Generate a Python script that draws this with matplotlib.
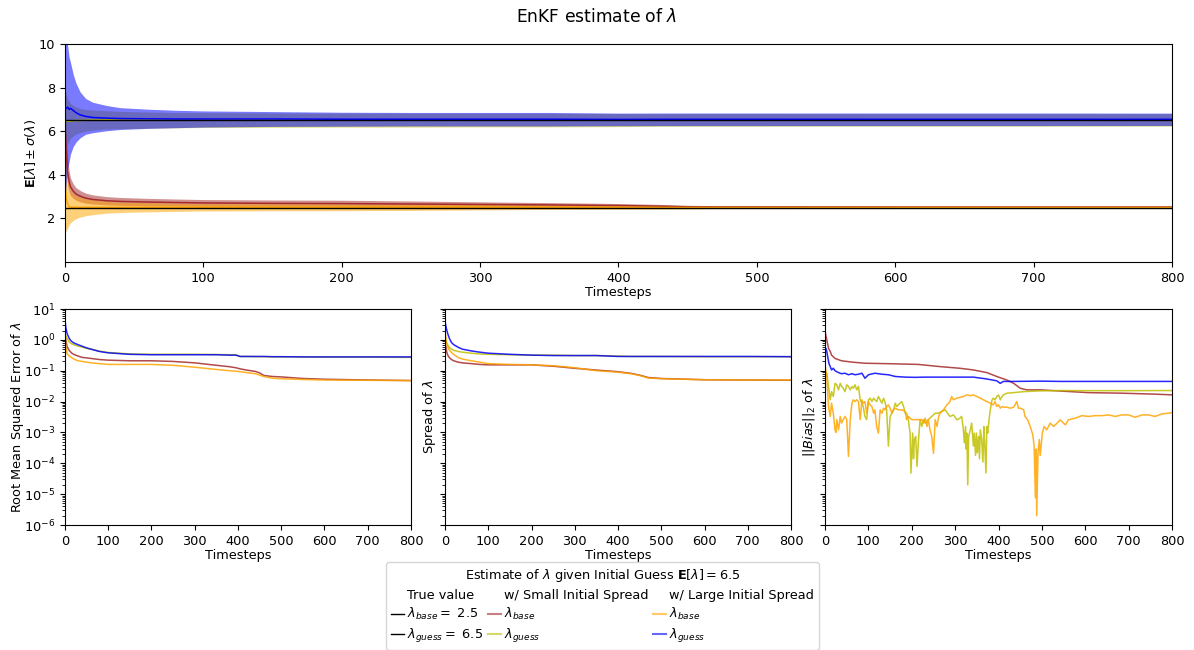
import numpy as np
import matplotlib
matplotlib.use("Agg")
import matplotlib.pyplot as plt
from matplotlib.lines import Line2D

plt.rcParams["font.size"] = 9.3

# true parameter values
true_base = 2.5
true_guess = 6.5

# ---- top panel: ensemble mean and spread ----
t_top = [0, 1, 2, 3, 4, 6, 8, 11, 15, 20, 30, 40, 60, 80, 100, 150, 200, 250,
         300, 350, 400, 430, 450, 470, 500, 600, 700, 800]

mean_base_small = [6.5, 4.8, 4.1, 3.7, 3.45, 3.25, 3.12, 3.02, 2.93, 2.87, 2.81, 2.78, 2.75, 2.73,
                   2.71, 2.69, 2.68, 2.66, 2.64, 2.62, 2.59, 2.56, 2.53, 2.525, 2.525, 2.52, 2.52, 2.52]
std_base_small = [1.0, 0.75, 0.6, 0.48, 0.4, 0.33, 0.29, 0.26, 0.23, 0.21, 0.19, 0.18, 0.17, 0.16,
                  0.155, 0.155, 0.155, 0.14, 0.12, 0.105, 0.093, 0.082, 0.072, 0.06, 0.056, 0.051, 0.05, 0.049]

mean_guess_small = [6.5, 6.47, 6.46, 6.46, 6.47, 6.48, 6.49, 6.49, 6.5, 6.51, 6.52, 6.51, 6.51, 6.505,
                    6.51, 6.51, 6.51, 6.51, 6.51, 6.51, 6.51, 6.515, 6.52, 6.52, 6.52, 6.52, 6.52, 6.52]
std_guess_small = [1.5, 1.2, 1.0, 0.9, 0.8, 0.7, 0.62, 0.55, 0.5, 0.46, 0.42, 0.4, 0.37, 0.35,
                   0.34, 0.33, 0.32, 0.32, 0.31, 0.31, 0.3, 0.29, 0.29, 0.29, 0.29, 0.285, 0.285, 0.285]

mean_base_large = [3.6, 2.9, 2.66, 2.55, 2.52, 2.51, 2.51, 2.51, 2.51, 2.51, 2.51, 2.51, 2.51, 2.51,
                   2.51, 2.51, 2.51, 2.51, 2.515, 2.51, 2.51, 2.505, 2.5, 2.5, 2.5, 2.5, 2.5, 2.5]
std_base_large = [2.1, 1.5, 1.1, 0.85, 0.72, 0.6, 0.52, 0.45, 0.39, 0.34, 0.27, 0.24, 0.21, 0.19,
                  0.17, 0.16, 0.155, 0.145, 0.125, 0.1, 0.09, 0.08, 0.07, 0.058, 0.055, 0.051, 0.05, 0.05]

mean_guess_large = [7.0, 7.05, 7.1, 7.0, 7.05, 6.95, 6.85, 6.75, 6.68, 6.63, 6.6, 6.58, 6.57, 6.56,
                    6.56, 6.56, 6.55, 6.55, 6.55, 6.55, 6.54, 6.545, 6.545, 6.545, 6.545, 6.545, 6.545, 6.545]
std_guess_large = [4.2, 3.3, 2.8, 2.4, 2.1, 1.65, 1.35, 1.05, 0.82, 0.7, 0.58, 0.5, 0.44, 0.4,
                   0.37, 0.34, 0.32, 0.31, 0.31, 0.31, 0.29, 0.29, 0.29, 0.29, 0.29, 0.29, 0.29, 0.285]

# ---- RMSE ----
t_err = [0, 2, 5, 10, 15, 20, 30, 40, 50, 60, 80, 100, 150, 200, 250, 300, 350, 380, 395, 405,
         420, 440, 450, 460, 480, 500, 550, 600, 700, 800]
rmse_base_small = [2.0, 1.0, 0.6, 0.45, 0.38, 0.34, 0.3, 0.27, 0.26, 0.25, 0.23, 0.22, 0.21, 0.21, 0.2,
                   0.18, 0.15, 0.135, 0.125, 0.115, 0.105, 0.095, 0.085, 0.07, 0.065, 0.063, 0.056, 0.053, 0.05, 0.048]
rmse_guess_small = [1.5, 1.3, 1.1, 0.85, 0.75, 0.7, 0.63, 0.58, 0.53, 0.5, 0.43, 0.39, 0.35, 0.34, 0.34,
                    0.34, 0.335, 0.33, 0.33, 0.29, 0.29, 0.285, 0.285, 0.285, 0.28, 0.28, 0.28, 0.275, 0.275, 0.27]
rmse_base_large = [1.5, 0.6, 0.35, 0.3, 0.27, 0.24, 0.21, 0.2, 0.19, 0.18, 0.17, 0.16, 0.16, 0.16, 0.15,
                   0.13, 0.11, 0.1, 0.097, 0.093, 0.087, 0.08, 0.072, 0.065, 0.057, 0.055, 0.052, 0.05, 0.049, 0.048]
rmse_guess_large = [4.4, 2.5, 1.6, 1.1, 0.9, 0.8, 0.7, 0.62, 0.55, 0.5, 0.42, 0.38, 0.34, 0.33, 0.33,
                    0.33, 0.33, 0.32, 0.32, 0.29, 0.29, 0.29, 0.29, 0.29, 0.285, 0.285, 0.28, 0.28, 0.28, 0.28]

# ---- bias ----
t_bias_base_small = [0, 4, 8, 12, 15, 23, 38, 62, 92, 154, 215, 265, 311, 342, 373, 396, 419, 435,
                     450, 465, 496, 542, 607, 684, 761, 800]
bias_base_small = [1.9, 1.0, 0.53, 0.42, 0.32, 0.25, 0.21, 0.19, 0.175, 0.168, 0.16, 0.136, 0.12, 0.106,
                   0.087, 0.065, 0.05, 0.039, 0.027, 0.024, 0.024, 0.022, 0.0195, 0.0187, 0.0174, 0.0165]

t_bias_guess_large = [0, 2, 4, 6, 9, 12, 15, 19, 23, 31, 38, 46, 54, 62, 69, 77, 85, 92, 100, 115, 131,
                      146, 162, 185, 208, 231, 277, 342, 373, 396, 404, 411, 435, 496, 542, 800]
bias_guess_large = [0.55, 0.53, 0.42, 0.29, 0.17, 0.136, 0.106, 0.12, 0.1, 0.087, 0.08, 0.083, 0.074,
                    0.08, 0.074, 0.077, 0.083, 0.057, 0.074, 0.083, 0.077, 0.074, 0.065, 0.062, 0.061,
                    0.062, 0.062, 0.062, 0.054, 0.047, 0.039, 0.045, 0.045, 0.046, 0.045, 0.045]

t_bias_guess_small = [0, 4, 8, 12, 15, 19, 23, 27, 31, 35, 38, 42, 46, 50, 54, 58, 62, 65, 69, 73, 77,
                      81, 85, 88, 92, 96, 100, 104, 108, 112, 115, 119, 123, 127, 131, 135, 138, 142,
                      146, 150, 154, 158, 162, 165, 169, 173, 177, 181, 185, 188, 192, 196, 198, 202,
                      204, 206, 209, 212, 215, 219, 223, 227, 231, 238, 246, 254, 262, 269, 277, 288,
                      296, 304, 311, 315, 319, 321, 324, 325, 327, 329, 331, 335, 338, 342, 344, 347,
                      349, 351, 354, 356, 358, 361, 364, 366, 368, 371, 373, 375, 378, 381, 385, 388,
                      392, 396, 400, 404, 408, 411, 419, 435, 458, 496, 542, 600, 700, 800]
bias_guess_small = [0.06, 0.083, 0.031, 0.0114, 0.021, 0.0146, 0.039, 0.035, 0.024, 0.039, 0.031,
                    0.027, 0.021, 0.035, 0.031, 0.024, 0.031, 0.027, 0.035, 0.024, 0.031, 0.0114,
                    0.0089, 0.0069, 0.0033, 0.0026, 0.0114, 0.0129, 0.010, 0.0129, 0.0114, 0.010,
                    0.0146, 0.0114, 0.0089, 0.0129, 0.010, 0.0054, 0.00036, 0.0033, 0.0042, 0.0054,
                    0.0089, 0.0069, 0.0078, 0.0089, 0.010, 0.0069, 0.0042, 0.0042, 0.0026, 0.00095,
                    0.000048, 0.00095, 0.00014, 0.00059, 0.00074, 0.000079, 0.00046, 0.0026, 0.00156,
                    0.0026, 0.002, 0.0026, 0.0033, 0.0042, 0.0042, 0.0048, 0.0054, 0.0033, 0.0037,
                    0.00256, 0.0029, 0.0033, 0.00121, 0.00046, 0.00156, 0.00029, 0.00095, 0.00002,
                    0.00074, 0.00121, 0.002, 0.00036, 0.00095, 0.00018, 0.00095, 0.00022, 0.00074,
                    0.00014, 0.00121, 0.00059, 0.00011, 0.00156, 0.00046, 0.000049, 0.00156, 0.00095,
                    0.00256, 0.0054, 0.0114, 0.0129, 0.0114, 0.0146, 0.0165, 0.0114, 0.0146, 0.0165,
                    0.0187, 0.0195, 0.021, 0.0222, 0.0228, 0.0226, 0.0226, 0.0228]

t_bias_base_large = [0, 4, 8, 12, 15, 19, 23, 25, 27, 31, 35, 38, 42, 46, 50, 54, 58, 62, 65, 69, 73,
                     77, 81, 85, 88, 92, 96, 100, 104, 108, 112, 115, 119, 123, 127, 131, 135, 138, 142,
                     146, 150, 154, 158, 162, 169, 177, 185, 188, 192, 200, 208, 215, 223, 227, 231, 235,
                     238, 242, 246, 250, 254, 258, 262, 265, 269, 273, 281, 288, 292, 296, 304, 311, 319,
                     327, 335, 342, 350, 358, 365, 373, 381, 388, 392, 396, 400, 404, 408, 411, 419, 427,
                     435, 438, 442, 446, 450, 458, 461, 467, 473, 479, 482, 485, 487, 488, 491, 494, 496,
                     498, 501, 505, 511, 519, 527, 535, 542, 554, 561, 577, 592, 607, 623, 638, 654, 669,
                     684, 700, 715, 731, 746, 761, 777, 792, 800]
bias_base_large = [0.15, 0.065, 0.0069, 0.0033, 0.0089, 0.0042, 0.00121, 0.001, 0.0026, 0.00121, 0.0033,
                   0.002, 0.0026, 0.0033, 0.0026, 0.000166, 0.0026, 0.0089, 0.0114, 0.010, 0.0114, 0.010,
                   0.0026, 0.0114, 0.0089, 0.010, 0.0042, 0.010, 0.0078, 0.0069, 0.0042, 0.0054, 0.00156,
                   0.00095, 0.0054, 0.0042, 0.0061, 0.0054, 0.0069, 0.0078, 0.0061, 0.0042, 0.0054,
                   0.0061, 0.0054, 0.0054, 0.0048, 0.0026, 0.0033, 0.0026, 0.0026, 0.0026, 0.0026, 0.002,
                   0.0029, 0.00156, 0.0026, 0.00121, 0.00074, 0.00021, 0.0026, 0.00156, 0.0033, 0.0042,
                   0.0048, 0.0054, 0.0078, 0.010, 0.0146, 0.0114, 0.0129, 0.0136, 0.0146, 0.0165, 0.0155,
                   0.0165, 0.0146, 0.0129, 0.0114, 0.010, 0.0089, 0.0078, 0.010, 0.0069, 0.0078, 0.0061,
                   0.0069, 0.0066, 0.0066, 0.0061, 0.0066, 0.0078, 0.010, 0.0061, 0.0061, 0.0054, 0.0033,
                   0.0026, 0.00156, 0.00084, 0.00036, 0.0000076, 0.00029, 0.000002, 0.00022, 0.00059,
                   0.00018, 0.00036, 0.00095, 0.00156, 0.00121, 0.002, 0.00156, 0.002, 0.00256, 0.00176,
                   0.00256, 0.0029, 0.0035, 0.0033, 0.0035, 0.0035, 0.0037, 0.0033, 0.0037, 0.0037,
                   0.0031, 0.0037, 0.0037, 0.0033, 0.004, 0.0042, 0.0044]

c_base_small = "brown"
c_guess_small = "y"
c_base_large = "orange"
c_guess_large = "blue"

fig = plt.figure(figsize=(11.94, 6.5), dpi=100)
fig.suptitle(r"EnKF estimate of $\lambda$", fontsize=12.3, y=0.988)

# top axes
ax = fig.add_axes([0.0544, 0.5969, 0.9272, 0.3354])
series = [
    (mean_base_small, std_base_small, c_base_small),
    (mean_guess_small, std_guess_small, c_guess_small),
    (mean_base_large, std_base_large, c_base_large),
    (mean_guess_large, std_guess_large, c_guess_large),
]
for m, s, c in series:
    m = np.array(m)
    s = np.array(s)
    ax.fill_between(t_top, m - s, m + s, color=c, alpha=0.52, lw=0)
for m, s, c in series:
    ax.plot(t_top, m, color=c, lw=1.1)
ax.axhline(true_base, color="black", lw=1)
ax.axhline(true_guess, color="black", lw=1)
ax.set_xlim(0, 800)
ax.set_ylim(0, 10)
ax.set_yticks([2, 4, 6, 8, 10])
ax.set_xlabel("Timesteps", labelpad=1)
ax.set_ylabel(r"$\mathbf{E}[\lambda] \pm \sigma(\lambda)$")
ax.yaxis.set_label_coords(-0.024, 0.5)

# bottom axes
ax1 = fig.add_axes([0.0544, 0.1923, 0.2898, 0.3323])
ax2 = fig.add_axes([0.3727, 0.1923, 0.2898, 0.3323], sharey=ax1)
ax3 = fig.add_axes([0.6910, 0.1923, 0.2906, 0.3323], sharey=ax1)

ax1.plot(t_err, rmse_base_small, color=c_base_small, lw=1.1, alpha=0.85)
ax1.plot(t_err, rmse_guess_small, color=c_guess_small, lw=1.1, alpha=0.85)
ax1.plot(t_err, rmse_base_large, color=c_base_large, lw=1.1, alpha=0.85)
ax1.plot(t_err, rmse_guess_large, color=c_guess_large, lw=1.1, alpha=0.85)

ax2.plot(t_top, std_base_small, color=c_base_small, lw=1.1, alpha=0.85)
ax2.plot(t_top, std_guess_small, color=c_guess_small, lw=1.1, alpha=0.85)
ax2.plot(t_top, std_base_large, color=c_base_large, lw=1.1, alpha=0.85)
ax2.plot(t_top, std_guess_large, color=c_guess_large, lw=1.1, alpha=0.85)

ax3.plot(t_bias_base_small, bias_base_small, color=c_base_small, lw=1.1, alpha=0.85)
ax3.plot(t_bias_guess_small, bias_guess_small, color=c_guess_small, lw=1.1, alpha=0.85)
ax3.plot(t_bias_base_large, bias_base_large, color=c_base_large, lw=1.1, alpha=0.85)
ax3.plot(t_bias_guess_large, bias_guess_large, color=c_guess_large, lw=1.1, alpha=0.85)

for a in (ax1, ax2, ax3):
    a.set_yscale("log")
    a.set_ylim(1e-6, 1e1)
    a.set_xlim(0, 800)
    a.set_xticks(range(0, 801, 100))
    a.set_xlabel("Timesteps", labelpad=1)
ax2.tick_params(labelleft=False)
ax3.tick_params(labelleft=False)
ax1.set_ylabel(r"Root Mean Squared Error of $\lambda$")
ax2.set_ylabel(r"Spread of $\lambda$")
ax3.set_ylabel(r"$||Bias||_2$ of $\lambda$")
ax1.yaxis.set_label_coords(-0.113, 0.5)
ax2.yaxis.set_label_coords(-0.02, 0.5)
ax3.yaxis.set_label_coords(-0.023, 0.5)

# legend laid out as a 3x3 table
blank = Line2D([], [], color="none")
handles = [
    blank,
    Line2D([], [], color="black", lw=1),
    Line2D([], [], color="black", lw=1),
    blank,
    Line2D([], [], color=c_base_small, lw=1.5, alpha=0.6),
    Line2D([], [], color=c_guess_small, lw=1.5, alpha=0.6),
    blank,
    Line2D([], [], color=c_base_large, lw=1.5, alpha=0.6),
    Line2D([], [], color=c_guess_large, lw=1.5, alpha=0.6),
]
labels = [
    "True value",
    r"$\lambda_{base} =$ " + str(true_base),
    r"$\lambda_{guess} =$ " + str(true_guess),
    "w/ Small Initial Spread",
    r"$\lambda_{base}$",
    r"$\lambda_{guess}$",
    "w/ Large Initial Spread",
    r"$\lambda_{base}$",
    r"$\lambda_{guess}$",
]
fig.legend(handles, labels, ncol=3, loc="upper center", bbox_to_anchor=(0.5046, 0.1354),
           title=r"Estimate of $\lambda$ given Initial Guess $\mathbf{E}[\lambda] = 6.5$",
           handlelength=1.0, handletextpad=0.2, columnspacing=0.4, labelspacing=0.35,
           borderaxespad=0, fontsize=9.3, title_fontsize=9.3)

fig.savefig("out.png", dpi=100)
